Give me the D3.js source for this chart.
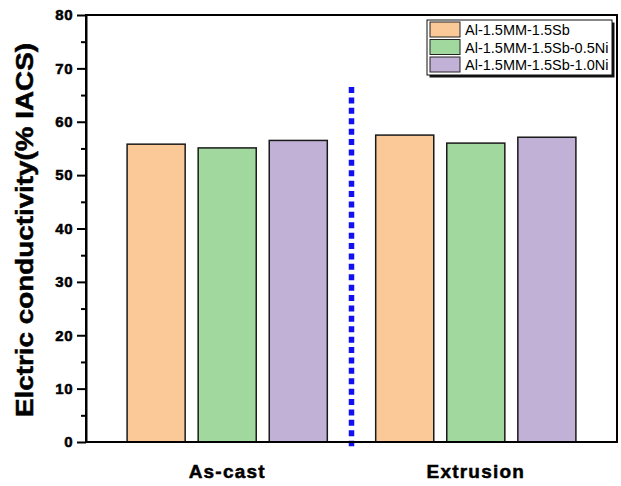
<!DOCTYPE html>
<html>
<head>
<meta charset="utf-8">
<script src="https://cdn.jsdelivr.net/npm/d3@7"></script>
<style>
body { margin: 0; background: #fff; }
text { font-family: "Liberation Sans", Arial, sans-serif; }
</style>
</head>
<body>
<svg id="chart" width="621" height="486"></svg>
<script>
// data
var groups = ["As-cast", "Extrusion"];
var series = ["Al-1.5MM-1.5Sb", "Al-1.5MM-1.5Sb-0.5Ni", "Al-1.5MM-1.5Sb-1.0Ni"];
var asCast = [55.8, 55.1, 56.5];
var extrusion = [57.5, 56.0, 57.1];
var yTicks = [0, 10, 20, 30, 40, 50, 60, 70, 80];
var colors = ["#fbc998", "#a0d89e", "#c2b1d6"];

var cfg = { left: 86, right: 617, top: 15, bottom: 442 };

var svg = d3.select("#chart");

var values = [asCast, extrusion];
var rows = [];
groups.forEach(function(g, i) {
	series.forEach(function(s, j) {
		rows.push({ group: g, series: s, value: values[i][j], idx: j });
	});
});

var x = d3.scalePoint()
	.domain(groups)
	.range([cfg.left, cfg.right])
	.padding(0.568);

var xs = d3.scaleBand()
	.domain(series)
	.range([-106.5, 106.5])
	.paddingInner(0.183)
	.paddingOuter(0.09);

var y = d3.scaleLinear()
	.domain([0, 80])
	.range([cfg.bottom, cfg.top]);

// bars
svg.append("g").selectAll("rect")
	.data(rows)
	.enter().append("rect")
	.attr("x", function(d) { return x(d.group) + xs(d.series); })
	.attr("y", function(d) { return y(d.value); })
	.attr("width", xs.bandwidth())
	.attr("height", function(d) { return y(0) - y(d.value); })
	.attr("fill", function(d) { return colors[d.idx]; })
	.attr("stroke", "#1a1a1a")
	.attr("stroke-width", 1.5);

// divider between the two states
var midX = (x(groups[0]) + x(groups[1])) / 2;
svg.append("line")
	.attr("x1", midX).attr("x2", midX)
	.attr("y1", y(66.5)).attr("y2", y(-0.8))
	.attr("stroke", "#1010f0")
	.attr("stroke-width", 5.5)
	.attr("stroke-dasharray", "6,4.4");

// frame
svg.append("rect")
	.attr("x", cfg.left).attr("y", cfg.top)
	.attr("width", cfg.right - cfg.left)
	.attr("height", cfg.bottom - cfg.top)
	.attr("fill", "none")
	.attr("stroke", "#000")
	.attr("stroke-width", 2);

// y axis
var yAxis = svg.append("g")
	.attr("transform", "translate(" + cfg.left + ",0)")
	.call(d3.axisLeft(y).tickValues(yTicks).tickSize(9).tickSizeOuter(0).tickPadding(4));
yAxis.select(".domain").attr("stroke-width", 2);
yAxis.selectAll(".tick line").attr("stroke-width", 2);
yAxis.selectAll("text")
	.attr("font-size", 15)
	.attr("font-weight", "bold")
	.attr("fill", "#000")
	.attr("stroke", "#000")
	.attr("stroke-width", 0.5)
	.attr("letter-spacing", 0.5)
	.style("font-family", "'Liberation Sans', Arial, sans-serif");

var minor = svg.append("g")
	.attr("transform", "translate(" + cfg.left + ",0)")
	.call(d3.axisLeft(y).tickValues(d3.range(5, 80, 10)).tickSize(5).tickFormat(""));
minor.select(".domain").remove();
minor.selectAll(".tick line").attr("stroke-width", 2);

// x labels
svg.append("g").selectAll("text")
	.data(groups)
	.enter().append("text")
	.attr("x", function(d) { return x(d); })
	.attr("y", 478)
	.attr("text-anchor", "middle")
	.attr("font-size", 19)
	.attr("font-weight", "bold")
	.attr("letter-spacing", 1.2)
	.attr("stroke", "#000")
	.attr("stroke-width", 0.5)
	.text(function(d) { return d; });

// y title
svg.append("text")
	.attr("transform", "translate(33,230) rotate(-90)")
	.attr("text-anchor", "middle")
	.attr("font-size", 23)
	.attr("font-weight", "bold")
	.attr("textLength", 374)
	.attr("lengthAdjust", "spacingAndGlyphs")
	.attr("stroke", "#000")
	.attr("stroke-width", 0.5)
	.text("Elctric conductivity(% IACS)");

// legend
var lg = svg.append("g").attr("transform", "translate(427,20)");
lg.append("rect")
	.attr("x", 2.5).attr("y", 2.5)
	.attr("width", 185).attr("height", 55)
	.attr("fill", "#111");
lg.append("rect")
	.attr("width", 185).attr("height", 55)
	.attr("fill", "#fff")
	.attr("stroke", "#111")
	.attr("stroke-width", 1);

var item = lg.selectAll("g.item")
	.data(series)
	.enter().append("g")
	.attr("class", "item")
	.attr("transform", function(d, i) { return "translate(0," + (i * 17.5 + 2) + ")"; });

item.append("rect")
	.attr("x", 3).attr("y", 0)
	.attr("width", 30).attr("height", 15)
	.attr("fill", function(d, i) { return colors[i]; })
	.attr("stroke", "#222")
	.attr("stroke-width", 1);

item.append("text")
	.attr("x", 38)
	.attr("y", 13)
	.attr("font-size", 14.5)
	.attr("fill", "#000")
	.text(function(d) { return d; });
</script>
</body>
</html>
